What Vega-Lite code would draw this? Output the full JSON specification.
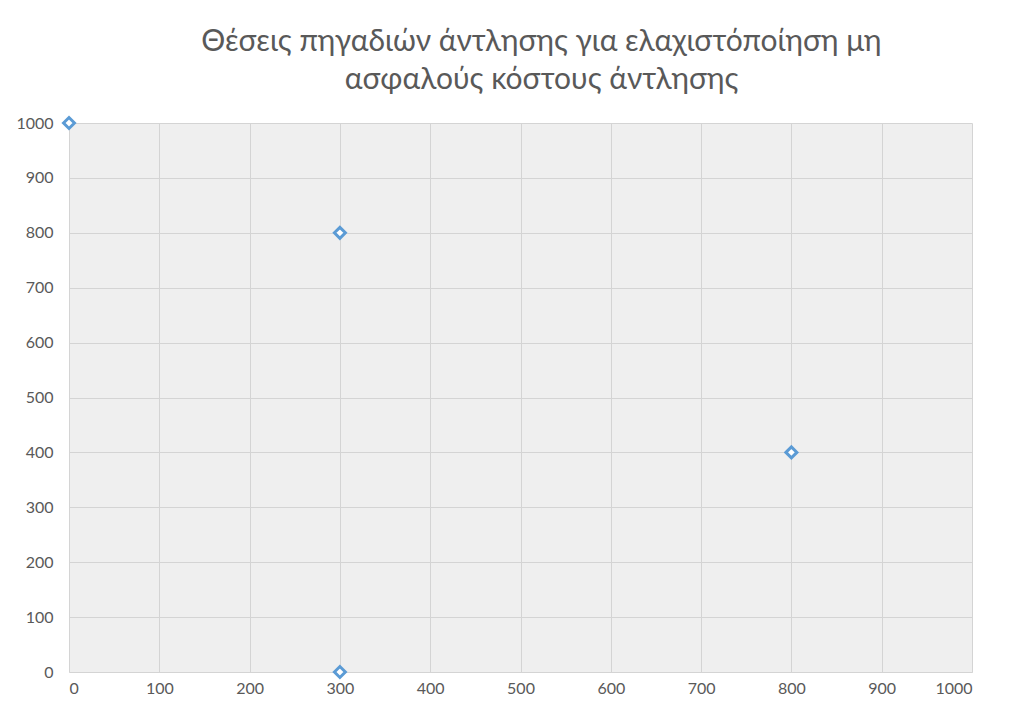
{
  "$schema": "https://vega.github.io/schema/vega-lite/v6.json",
  "autosize": "none",
  "width": 903,
  "height": 549,
  "padding": {"left": 69, "top": 123, "right": 44, "bottom": 50},
  "background": "white",
  "title": {
    "text": ["Θέσεις πηγαδιών άντλησης για ελαχιστόποίηση μη", "ασφαλούς κόστους άντλησης"],
    "font": "Lato",
    "fontSize": 30,
    "fontWeight": "normal",
    "color": "#595959",
    "anchor": "middle",
    "dx": 21,
    "offset": 17,
    "lineHeight": 38
  },
  "data": {
    "values": [
      {"x": 0, "y": 1000},
      {"x": 300, "y": 800},
      {"x": 300, "y": 0},
      {"x": 800, "y": 400}
    ]
  },
  "config": {
    "view": {"fill": "#efefef", "stroke": null},
    "axis": {
      "labelFont": "Lato",
      "labelFontSize": 16,
      "labelColor": "#595959",
      "gridColor": "#d4d4d4",
      "gridWidth": 1,
      "ticks": false,
      "title": null,
      "format": "d"
    }
  },
  "mark": {"type": "point", "shape": "diamond", "filled": true, "fill": "white", "stroke": "#5b9bd5", "strokeWidth": 3, "size": 120, "opacity": 1, "clip": false},
  "encoding": {
    "x": {"field": "x", "type": "quantitative", "scale": {"domain": [0, 1000], "nice": false}, "axis": {"values": [0,100,200,300,400,500,600,700,800,900,1000], "domain": true, "domainColor": "#d4d4d4", "labelPadding": 8}},
    "y": {"field": "y", "type": "quantitative", "scale": {"domain": [0, 1000], "nice": false}, "axis": {"values": [0,100,200,300,400,500,600,700,800,900,1000], "domain": false, "labelPadding": 16}}
  }
}
